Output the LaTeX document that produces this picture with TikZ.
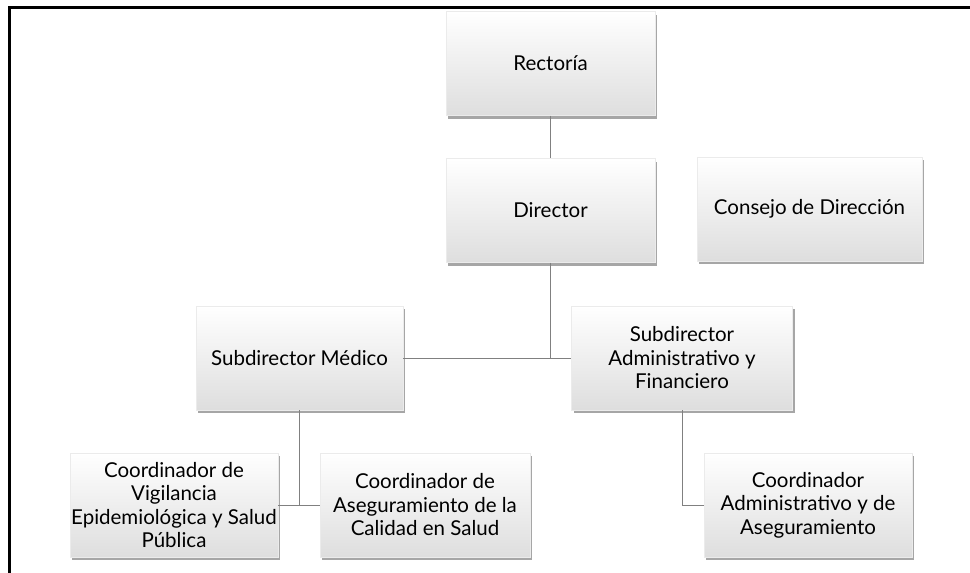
\documentclass[tikz,border=0pt]{standalone}
\usepackage{fontspec}
\setmainfont{Lato}
\usetikzlibrary{shadows}

\begin{document}
\begin{tikzpicture}[x=1pt,y=-1pt,
    box/.style={shade, top color=white, middle color=white, bottom color=black!13,
      draw=black!8, line width=0.4pt, align=center, font=\fontsize{20.5}{23.5}\selectfont,
      inner sep=0pt, minimum width=209pt, minimum height=104pt,
      drop shadow={shadow xshift=2pt, shadow yshift=-3pt, fill=black, opacity=0.35}},
    conn/.style={draw=black!50, line width=0.9pt}]

  \useasboundingbox (0,0) rectangle (970,573);
  \draw[line width=3pt] (9,573) -- (9,7) -- (970,7);

  \node[box] (rect) at (550.5,63.5) {Rectoría};
  \node[box] (dir) at (550.5,210.5) {Director};
  \node[box, minimum width=225pt] (cons) at (809.5,209) {Consejo\ de Dirección};

  \node[box, minimum width=207pt] (subm) at (299.5,358) {Subdirector Médico};
  \node[box, minimum width=221pt] (suba) at (682,358) {Subdirector\\ Administrativo\ y\\ Financiero};

  \node[box, minimum width=208pt] (vig) at (174,505) {Coordinador\ de\\ Vigilancia\\ Epidemiológica\ y Salud\\ Pública};
  \node[box, minimum width=210pt] (cal) at (425,505) {Coordinador\ de\\ Aseguramiento\ de la\\ Calidad\ en Salud};
  \node[box, minimum width=208pt] (coad) at (808,505) {Coordinador\\ Administrativo\ y de\\ Aseguramiento};

  \draw[conn] (rect) -- (dir);
  \draw[conn] (subm.east) -- (suba.west);
  \draw[conn] (dir) -- (dir |- subm.east);
  \draw[conn] (subm) -- (subm |- vig.east);
  \draw[conn] (vig.east) -- (cal.west);
  \draw[conn] (suba) -- (suba |- coad.west) -- (coad.west);

\end{tikzpicture}
\end{document}
